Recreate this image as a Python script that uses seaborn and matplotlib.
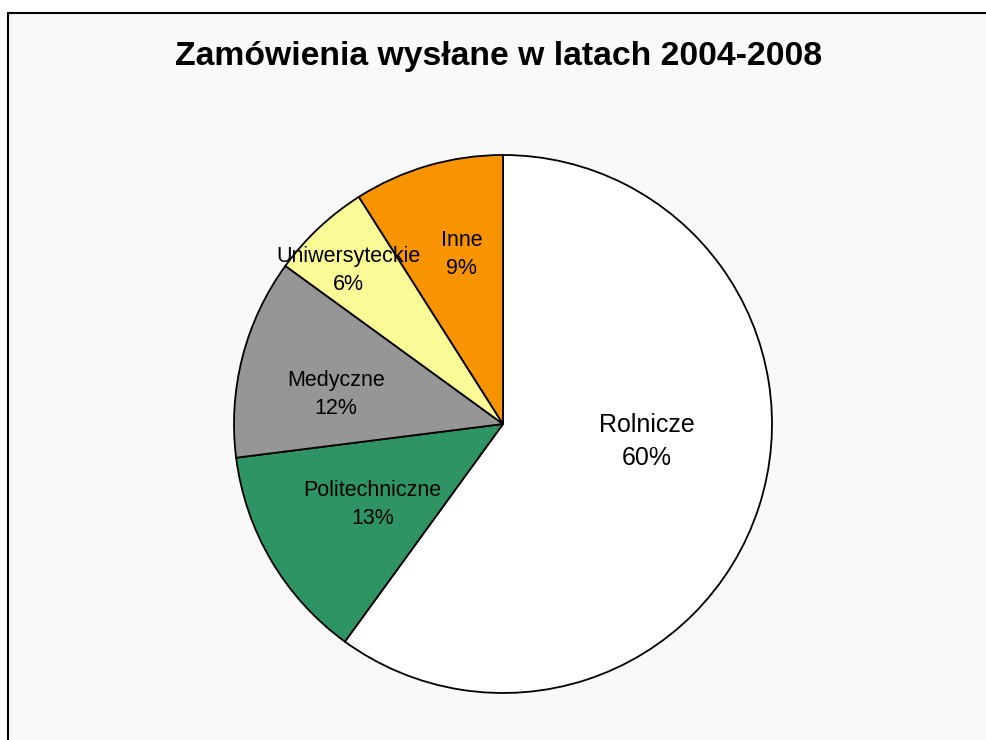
import numpy as np
import seaborn as sns
from matplotlib import pyplot as plt
from matplotlib.patches import Rectangle

# data
categories = ["Rolnicze", "Politechniczne", "Medyczne", "Uniwersyteckie", "Inne"]
shares = [60, 13, 12, 6, 9]
colors = ["#ffffff", "#2e9463", "#969696", "#fafa96", "#f79400"]

# label placement (radius fraction, angle shift in degrees)
label_r = [0.54, 0.57, 0.63, 0.81, 0.65]
label_shift = [11, 1, 4.5, 2, -2.5]
label_size = [18, 15.5, 15.5, 15.5, 15.5]

sns.set_theme(style="white")
plt.rcParams['font.family'] = ['Liberation Sans', 'DejaVu Sans']
plt.rcParams['text.color'] = 'black'

fig = plt.figure(figsize=(9.86, 7.4), dpi=100)
fig.patch.set_facecolor("white")
fig.patches.append(Rectangle((8 / 986, -0.05), 1.1, 1 - 13 / 740 + 0.05,
                             transform=fig.transFigure, facecolor="#f9f9f9",
                             edgecolor="black", linewidth=1.5, zorder=-5))

R = 269
ax = fig.add_axes([(503 - R) / 986, (740 - 424 - R) / 740, 2 * R / 986, 2 * R / 740])
ax.set_zorder(2)
wedges, _ = ax.pie(shares, colors=colors, startangle=90, counterclock=False,
                   wedgeprops=dict(edgecolor="black", linewidth=1.3))
ax.set_xlim(-1, 1)
ax.set_ylim(-1, 1)
ax.set_aspect("equal")
ax.axis("off")

for w, name, v, r, sh, fs in zip(wedges, categories, shares, label_r, label_shift, label_size):
    mid = np.deg2rad((w.theta1 + w.theta2) / 2 + sh)
    ax.text(r * np.cos(mid), r * np.sin(mid), f"{name}\n{v}%", ha="center", va="center",
            fontsize=fs, color="black", linespacing=1.45)

fig.text(499 / 986, 1 - 57 / 740, "Zamówienia wysłane w latach 2004-2008",
         ha="center", va="center", fontsize=24.3, fontweight="bold", color="black")

plt.savefig("out.png", dpi=100)
